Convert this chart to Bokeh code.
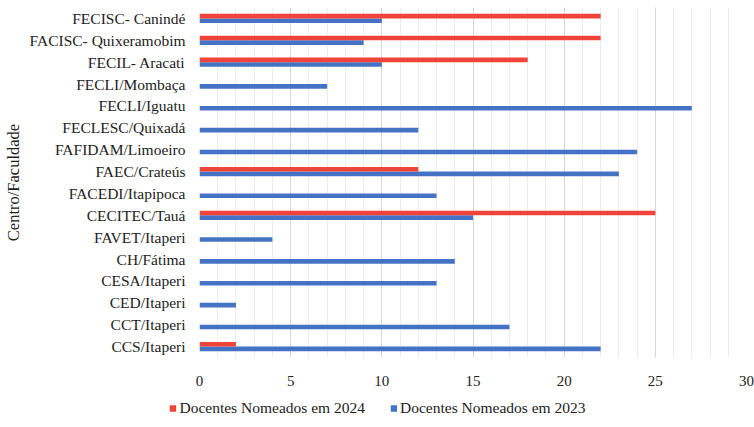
from bokeh.plotting import figure
from bokeh.layouts import column, row
from bokeh.models import (FactorRange, Range1d, Legend, LegendItem,
                          SingleIntervalTicker, ColumnDataSource)
from bokeh.transform import dodge
from bokeh.embed import file_html
from bokeh.resources import INLINE

categories = [
    "FECISC- Canindé", "FACISC- Quixeramobim", "FECIL- Aracati",
    "FECLI/Mombaça", "FECLI/Iguatu", "FECLESC/Quixadá", "FAFIDAM/Limoeiro",
    "FAEC/Crateús", "FACEDI/Itapipoca", "CECITEC/Tauá", "FAVET/Itaperi",
    "CH/Fátima", "CESA/Itaperi", "CED/Itaperi", "CCT/Itaperi", "CCS/Itaperi",
]
docentes_2023 = [10, 9, 10, 7, 27, 12, 24, 23, 13, 15, 4, 14, 13, 2, 17, 22]
docentes_2024 = [22, 22, 18, 0, 0, 0, 0, 12, 0, 25, 0, 0, 0, 0, 0, 2]
series_labels = ["Docentes Nomeados em 2024", "Docentes Nomeados em 2023"]

RED = "#F0433A"
BLUE = "#4472C4"
FONT = "Liberation Serif"
TXT = "#222222"

src = ColumnDataSource(dict(cat=categories, v23=docentes_2023, v24=docentes_2024))

p = figure(width=754, height=388, output_backend="svg", toolbar_location=None,
           y_range=FactorRange(factors=list(reversed(categories))),
           x_range=Range1d(0, 30),
           min_border_left=198, min_border_right=8, min_border_top=7,
           min_border_bottom=28)
p.outline_line_color = None

r23 = p.hbar(y=dodge("cat", -0.105, range=p.y_range), right="v23", left=0,
             height=0.21, source=src, fill_color=BLUE, line_color=None)
r24 = p.hbar(y=dodge("cat", 0.105, range=p.y_range), right="v24", left=0,
             height=0.21, source=src, fill_color=RED, line_color=None)

p.xaxis.ticker = SingleIntervalTicker(interval=5, num_minor_ticks=5)
p.xaxis.axis_line_color = None
p.xaxis.major_tick_line_color = None
p.xaxis.minor_tick_line_color = None
p.xaxis.major_label_standoff = 12
p.xaxis.major_label_text_font = FONT
p.xaxis.major_label_text_font_size = "15px"
p.xaxis.major_label_text_color = TXT

p.yaxis.axis_line_color = None
p.yaxis.major_tick_line_color = None
p.yaxis.minor_tick_line_color = None
p.yaxis.major_label_standoff = 8
p.yaxis.major_label_text_font = FONT
p.yaxis.major_label_text_font_size = "15.5px"
p.yaxis.major_label_text_color = TXT
p.yaxis.axis_label = "Centro/Faculdade"
p.yaxis.axis_label_text_font = FONT
p.yaxis.axis_label_text_font_size = "16.5px"
p.yaxis.axis_label_text_font_style = "normal"
p.yaxis.axis_label_text_color = TXT
p.yaxis.axis_label_standoff = 4

p.ygrid.grid_line_color = None
p.xgrid.grid_line_color = "#d6d6d6"
p.xgrid.minor_grid_line_color = "#ececec"

# legend strip below the chart
q = figure(width=754, height=39, output_backend="svg", toolbar_location=None,
           x_range=Range1d(0, 1), y_range=Range1d(0, 1),
           min_border=0)
q.outline_line_color = None
q.xaxis.visible = False
q.yaxis.visible = False
q.grid.visible = False
# proxy renderers (placed outside the visible range) only for the legend swatches
l24 = q.hbar(y=[-5], left=[0], right=[1], height=0.5, fill_color=RED, line_color=None)
l23 = q.hbar(y=[-5], left=[0], right=[1], height=0.5, fill_color=BLUE, line_color=None)
legend = Legend(items=[LegendItem(label=series_labels[0], renderers=[l24]),
                       LegendItem(label=series_labels[1], renderers=[l23])],
                orientation="horizontal", location="center",
                label_text_font=FONT, label_text_font_size="15.5px",
                label_text_color=TXT,
                glyph_width=8, glyph_height=8, label_standoff=3, spacing=24,
                border_line_color=None, background_fill_alpha=0,
                padding=2, margin=0)
q.add_layout(legend, "center")

layout = column(p, row(q, spacing=0), spacing=0)
open("out.html", "w").write(file_html(layout, INLINE))
